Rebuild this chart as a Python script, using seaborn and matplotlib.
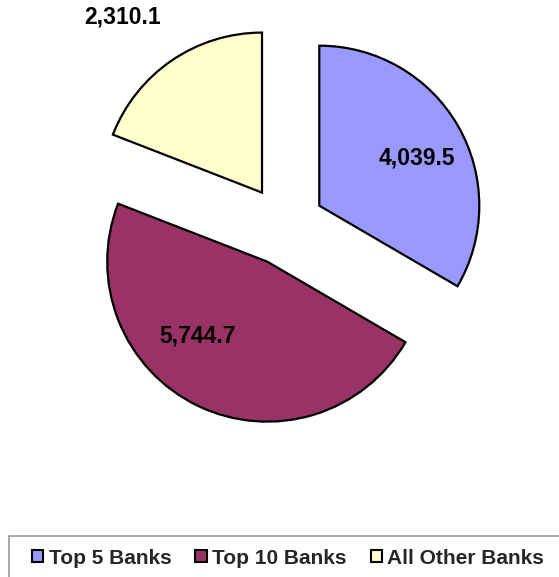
import numpy as np
import matplotlib
matplotlib.use("Agg")
import matplotlib.pyplot as plt
from matplotlib.patches import Patch, Rectangle
import seaborn as sns

# Deposits by bank group
categories = ["Top 5 Banks", "Top 10 Banks", "All Other Banks"]
values = [4039.5, 5744.7, 2310.1]
value_labels = ["4,039.5", "5,744.7", "2,310.1"]
colors = ["#9999FF", "#993366", "#FFFFCC"]

sns.set_theme(style="white")
plt.rcParams["font.family"] = ["Liberation Sans", "DejaVu Sans"]

W, H = 559, 577
fig = plt.figure(figsize=(W / 100, H / 100), dpi=100)
fig.patch.set_facecolor("white")
ax = fig.add_axes([0, 0, 1, 1])

radius = 160
center = (284.6, H - 225.6)
explode = [0.25 * radius] * len(values)

wedges, _ = ax.pie(
    values,
    colors=colors,
    radius=radius,
    center=center,
    explode=explode,
    startangle=90,
    counterclock=False,
    wedgeprops=dict(edgecolor="black", linewidth=1.6),
)
ax.set_xlim(0, W)
ax.set_ylim(0, H)
ax.set_aspect("equal")
ax.axis("off")

# label placement per wedge: distance (fraction of radius), angular shift (deg)
label_dist = [0.68, 0.635, 1.40]
label_shift = [-3.9, -17.6, 4.2]
for w, txt, d, s in zip(wedges, value_labels, label_dist, label_shift):
    ang = np.deg2rad(0.5 * (w.theta1 + w.theta2) + s)
    cx, cy = w.center
    ax.text(cx + d * radius * np.cos(ang), cy + d * radius * np.sin(ang), txt,
            ha="center", va="center", fontsize=16.5, fontweight="bold",
            color="black")

# legend frame running off the lower-right edge
fig.patches.append(Rectangle((9 / W, -0.05), 1.2, (H - 536) / H + 0.05,
                             transform=fig.transFigure, fill=False,
                             edgecolor="#999999", linewidth=1.2))

handles = [Patch(facecolor=c, edgecolor="black", linewidth=1.5) for c in colors]
fig.legend(handles, categories, loc="center left",
           bbox_to_anchor=(32 / W, 1 - 558 / H), bbox_transform=fig.transFigure,
           ncol=3, frameon=False, borderpad=0, borderaxespad=0,
           handlelength=0.55, handleheight=0.55, handletextpad=0.25,
           columnspacing=1.15,
           prop=dict(family="Liberation Sans", weight="bold", size=15))

fig.savefig("out.png", dpi=100)
